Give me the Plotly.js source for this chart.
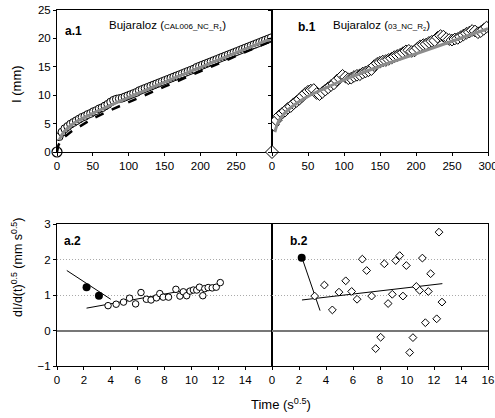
<!DOCTYPE html>
<html><head><meta charset="utf-8">
<script src="https://cdn.plot.ly/plotly-3.0.1.min.js"></script>
<style>html,body{margin:0;padding:0;background:#fff;}#plot{width:495px;height:418px;}</style>
</head><body><div id="plot"></div>
<script>
// ---- Panel a.1 (CAL006_NC_R1): infiltration I (mm) vs time (s)
const a1_t = [3,7,11,15,19,23,27,31,35,39,43,47,51,55,59,63,67,71,75,79,83,87,91,95,99,103,107,111,115,119,123,127,131,135,139,143,147,151,155,159,163,167,171,175,179,183,187,191,195,199,203,207,211,215,219,223,227,231,235,239,243,247,251,255,259,263,267,271,275,279,283,287,291,295,299];
const a1_I = [2.7,3.5,4.1,4.5,4.9,5.2,5.5,5.8,6.1,6.3,6.6,6.8,7.1,7.3,7.6,7.8,8.1,8.4,8.8,9.1,9.3,9.4,9.5,9.7,9.9,10.1,10.3,10.5,10.8,11.0,11.2,11.4,11.6,11.8,12.0,12.2,12.4,12.6,12.8,13.0,13.2,13.4,13.6,13.8,14.0,14.2,14.4,14.6,14.9,15.1,15.3,15.5,15.7,15.9,16.1,16.3,16.5,16.7,16.9,17.1,17.3,17.5,17.7,17.9,18.1,18.3,18.5,18.7,18.9,19.1,19.3,19.5,19.7,19.9,20.1];
const a1_fit_t = [3,10,25,50,100,150,200,250,300];
const a1_fit_I = [2.1,3.6,5.2,6.8,9.6,12.3,14.9,17.5,20.0];
const a1_dash_t = [0,2,5,10,20,30,50,75,100,150,200,250,300];
const a1_dash_I = [0,1.2,1.9,2.6,3.6,4.4,5.9,7.4,8.8,11.5,14.2,16.9,19.6];
// ---- Panel b.1 (03_NC_R2)
const b1_t = [2,6,10,14,18,22,26,30,34,38,42,46,50,54,58,62,66,70,74,78,82,86,90,94,98,102,106,110,114,118,122,126,130,134,138,142,146,150,154,158,162,166,170,174,178,182,186,190,194,198,202,206,210,214,218,222,226,230,234,238,242,246,250,254,258,262,266,270,274,278,282,286,290,294,298];
const b1_I = [4.8,5.6,6.4,6.8,7.2,7.7,8.0,8.5,8.9,9.3,9.8,10.3,10.7,10.9,11.0,10.3,10.1,10.5,10.9,11.3,11.7,12.0,12.6,13.0,13.5,13.2,12.9,13.0,13.3,13.5,13.6,13.9,14.1,14.3,14.5,15.2,15.6,15.8,16.0,16.1,16.3,16.5,16.8,17.0,17.2,17.5,17.8,17.9,17.7,17.8,18.3,18.7,18.9,19.0,19.3,19.5,19.6,20.2,20.5,20.4,20.0,19.8,19.7,19.9,20.0,20.3,20.6,20.9,21.1,21.4,21.3,21.0,21.2,21.6,22.0];
const b1_fit_t = [4,10,25,50,75,100,150,200,250,300];
const b1_fit_I = [3.5,5.6,7.7,9.8,11.3,12.7,15.1,17.3,19.5,21.7];
// ---- Panel a.2: dI/d(t)^0.5 vs time (s^0.5)
const a2_fill_x = [2.2,3.12];
const a2_fill_y = [1.22,0.98];
const a2_x = [3.8,4.4,4.95,5.4,5.85,6.25,6.65,7.0,7.4,7.65,7.9,8.3,8.85,9.15,9.4,9.65,9.9,10.15,10.4,10.6,10.85,11.0,11.25,11.55,11.85,12.15];
const a2_y = [0.70,0.74,0.80,0.91,0.75,1.07,0.88,0.86,0.92,1.04,0.94,0.94,1.16,0.97,1.09,0.98,1.11,1.14,1.14,1.22,0.98,1.18,1.21,1.20,1.22,1.35];
const a2_l1_x = [0.73,4.0];
const a2_l1_y = [1.69,0.88];
const a2_l2_x = [2.2,12.15];
const a2_l2_y = [0.63,1.31];
// ---- Panel b.2
const b2_fill_x = [2.2];
const b2_fill_y = [2.05];
const b2_x = [3.16,3.88,4.47,4.96,5.46,5.9,6.3,6.69,7.01,7.38,7.68,8.05,8.32,8.6,8.91,9.16,9.46,9.7,9.95,10.2,10.44,10.69,10.94,11.14,11.36,11.58,11.75,12.2,12.37,12.59];
const b2_y = [0.97,1.28,0.58,1.08,1.40,1.10,0.88,2.01,1.69,0.97,-0.51,-0.19,1.88,0.76,1.02,1.97,2.11,0.97,1.83,-0.62,-0.20,1.24,1.13,2.04,0.22,1.10,1.60,0.33,2.77,0.80];
const b2_l1_x = [2.22,3.56];
const b2_l1_y = [2.05,0.56];
const b2_l2_x = [2.22,12.62];
const b2_l2_y = [0.86,1.32];
// ---- Ticks
const topTicksA = [0,50,100,150,200,250];
const topTicksB = [0,50,100,150,200,250,300];
const botTicksA = [0,2,4,6,8,10,12,14];
const botTicksB = [0,2,4,6,8,10,12,14,16];
const topYTicks = [0,5,10,15,20,25];
const botYTicks = [-1,0,1,2,3];

const FONT = 'Liberation Sans, Arial, sans-serif';
const W = 495, H = 418;
const px = v => v / W, py = v => 1 - v / H;

const traces = [
  {x: a1_t, y: a1_I, xaxis:'x', yaxis:'y', mode:'markers', type:'scatter',
   marker:{symbol:'circle', size:8, color:'white', line:{color:'black', width:1}}},
  {x:[0], y:[0], xaxis:'x', yaxis:'y', mode:'markers', cliponaxis:false,
   marker:{symbol:'circle', size:10, color:'white', line:{color:'black', width:1.2}}},
  {x: a1_dash_t, y: a1_dash_I, xaxis:'x', yaxis:'y', mode:'lines',
   line:{color:'black', width:2.5, dash:'dash'}},
  {x: a1_fit_t, y: a1_fit_I, xaxis:'x', yaxis:'y', mode:'lines', line:{color:'#8c8c8c', width:3, shape:'spline'}},
  {x: b1_t, y: b1_I, xaxis:'x2', yaxis:'y2', mode:'markers',
   marker:{symbol:'diamond', size:9, color:'white', line:{color:'black', width:1}}},
  {x:[0], y:[0], xaxis:'x2', yaxis:'y2', mode:'markers', cliponaxis:false,
   marker:{symbol:'diamond', size:10, color:'white', line:{color:'black', width:1}}},
  {x: b1_fit_t, y: b1_fit_I, xaxis:'x2', yaxis:'y2', mode:'lines', line:{color:'#8c8c8c', width:3, shape:'spline'}},
  {x: a2_l1_x, y: a2_l1_y, xaxis:'x3', yaxis:'y3', mode:'lines', line:{color:'black', width:1}},
  {x: a2_l2_x, y: a2_l2_y, xaxis:'x3', yaxis:'y3', mode:'lines', line:{color:'black', width:1}},
  {x: a2_x, y: a2_y, xaxis:'x3', yaxis:'y3', mode:'markers',
   marker:{symbol:'circle', size:6.5, color:'white', line:{color:'black', width:1}}},
  {x: a2_fill_x, y: a2_fill_y, xaxis:'x3', yaxis:'y3', mode:'markers',
   marker:{symbol:'circle', size:8, color:'black'}},
  {x: b2_l1_x, y: b2_l1_y, xaxis:'x4', yaxis:'y4', mode:'lines', line:{color:'black', width:1}},
  {x: b2_l2_x, y: b2_l2_y, xaxis:'x4', yaxis:'y4', mode:'lines', line:{color:'black', width:1}},
  {x: b2_x, y: b2_y, xaxis:'x4', yaxis:'y4', mode:'markers',
   marker:{symbol:'diamond', size:6, color:'white', line:{color:'black', width:1}}},
  {x: b2_fill_x, y: b2_fill_y, xaxis:'x4', yaxis:'y4', mode:'markers',
   marker:{symbol:'circle', size:8, color:'black'}}
];

const dxA = [px(57), px(272)], dxB = [px(272), px(488)];
const dyT = [py(152), py(10)], dyB = [py(366), py(224)];
const baseX = {showline:true, linecolor:'black', linewidth:1, mirror:true, ticks:'outside', ticklen:3, tickcolor:'black',
  showgrid:false, zeroline:false, tickfont:{family:FONT, size:11.5, color:'black'}, tickmode:'array', ticklabeloverflow:'allow'};
const baseY = Object.assign({}, baseX);

const layout = {
  width: W, height: H, margin:{l:0, r:0, t:0, b:0}, showlegend:false,
  paper_bgcolor:'white', plot_bgcolor:'white', font:{family:FONT, color:'black'},
  xaxis: Object.assign({}, baseX, {domain:dxA, range:[0,300], anchor:'y', tickvals: topTicksA}),
  yaxis: Object.assign({}, baseY, {domain:dyT, range:[0,25], anchor:'x', tickvals: topYTicks}),
  xaxis2: Object.assign({}, baseX, {domain:dxB, range:[0,300], anchor:'y2', tickvals: topTicksB}),
  yaxis2: Object.assign({}, baseY, {domain:dyT, range:[0,25], anchor:'x2', tickvals: topYTicks, showticklabels:false}),
  xaxis3: Object.assign({}, baseX, {domain:dxA, range:[0,16], anchor:'y3', tickvals: botTicksA}),
  yaxis3: Object.assign({}, baseY, {domain:dyB, range:[-1,3], anchor:'x3', tickvals: botYTicks,
     showgrid:true, gridcolor:'#aaa', griddash:'1px,2px', gridwidth:1, zeroline:true, zerolinecolor:'#777', zerolinewidth:2}),
  xaxis4: Object.assign({}, baseX, {domain:dxB, range:[0,16], anchor:'y4', tickvals: botTicksB}),
  yaxis4: Object.assign({}, baseY, {domain:dyB, range:[-1,3], anchor:'x4', tickvals: botYTicks, showticklabels:false, ticks:'',
     showgrid:true, gridcolor:'#aaa', griddash:'1px,2px', gridwidth:1, zeroline:true, zerolinecolor:'#777', zerolinewidth:2}),
  annotations: [
    {text:'<b>a.1</b>', x:px(63), y:py(31), xanchor:'left', yanchor:'middle', font:{size:12}},
    {text:'Bujaraloz (<span style="font-size:8px">CAL006_NC_R<sub>1</sub></span>)', x:px(107), y:py(25), xanchor:'left', yanchor:'middle', font:{size:11.5}},
    {text:'<b>b.1</b>', x:px(296), y:py(27), xanchor:'left', yanchor:'middle', font:{size:12}},
    {text:'Bujaraloz (<span style="font-size:8px">03_NC_R<sub>2</sub></span>)', x:px(331), y:py(25), xanchor:'left', yanchor:'middle', font:{size:11.5}},
    {text:'<b>a.2</b>', x:px(62), y:py(241), xanchor:'left', yanchor:'middle', font:{size:12}},
    {text:'<b>b.2</b>', x:px(288), y:py(241), xanchor:'left', yanchor:'middle', font:{size:12}},
    {text:'I (mm)', x:px(17), y:py(84), xanchor:'center', yanchor:'middle', textangle:-90, font:{size:13}},
    {text:'dI/d(t)<sup>0.5</sup> (mm s<sup>0.5</sup>)', x:px(17), y:py(268), xanchor:'center', yanchor:'middle', textangle:-90, font:{size:12.5}},
    {text:'Time (s<sup>0.5</sup>)', x:px(281), y:py(404), xanchor:'center', yanchor:'middle', font:{size:13}}
  ].map(a => Object.assign({xref:'paper', yref:'paper', showarrow:false}, a))
};
layout.annotations.forEach(a => { a.font = Object.assign({family:FONT, color:'black'}, a.font); });

Plotly.newPlot('plot', traces, layout, {staticPlot:true, displayModeBar:false});
</script></body></html>
